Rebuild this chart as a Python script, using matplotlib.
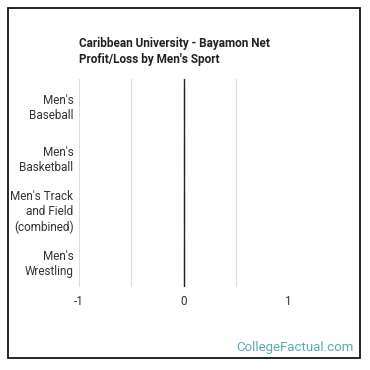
import matplotlib.pyplot as plt
from matplotlib.patches import Rectangle

# Caribbean University - Bayamon net profit/loss by men's sport
sports = ["Men's\nBaseball", "Men's\nBasketball", "Men's Track\nand Field\n(combined)", "Men's\nWrestling"]
net_profit = [0, 0, 0, 0]
grid_ticks = [-1, -0.5, 0, 0.5, 1]
label_ticks = [-1, 0, 1]

plt.rcParams['font.family'] = ['Roboto', 'DejaVu Sans']

fig = plt.figure(figsize=(3.7, 3.7), dpi=100)
fig.patch.set_facecolor('white')

# outer frame
fig.add_artist(Rectangle((8 / 370, 12 / 370), 352 / 370, 350 / 370, transform=fig.transFigure,
                         fill=False, edgecolor='black', linewidth=1.2))

ax = fig.add_axes([79 / 370, 1 - 287 / 370, 209 / 370, 208 / 370])
ypos = list(range(len(sports)))
ax.barh(ypos, net_profit, height=0.7, color='#5b7f95', edgecolor='#6f93a8', linewidth=0.8, zorder=3)

ax.set_xlim(-1, 1)
ax.set_ylim(len(sports) - 0.5, -0.5)
ax.set_yticks(ypos)
ax.set_yticklabels(sports, fontsize=8.5, color='#333333', linespacing=1.25)
ax.set_xticks(grid_ticks)
ax.set_xticklabels([str(t) if t in label_ticks else '' for t in grid_ticks], fontsize=8.5, color='#333333')
ax.tick_params(length=0, pad=6)
ax.tick_params(axis='y', pad=4)
ax.grid(axis='x', color='#dddddd', linewidth=0.8, zorder=0)
ax.axvline(0, color='#222222', linewidth=1.0, zorder=4)
for s in ax.spines.values():
    s.set_visible(False)

fig.text(79 / 370, 1 - 37 / 370, "Caribbean University - Bayamon Net\nProfit/Loss by Men's Sport",
         fontsize=8.5, fontweight='bold', color='#222222', va='top', ha='left', linespacing=1.35)
fig.text(354 / 370, 1 - 348 / 370, "CollegeFactual.com", fontsize=9.5, color='#5aa9bb',
         ha='right', va='center')

plt.savefig('out.png', dpi=100, facecolor='white')
